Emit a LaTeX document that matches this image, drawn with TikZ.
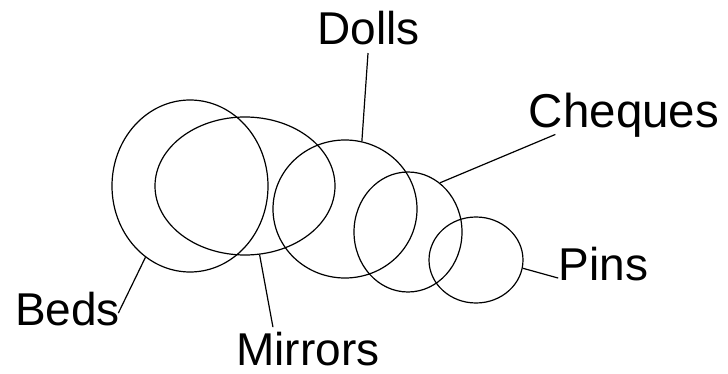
\documentclass[tikz,border=0pt]{standalone}
\usepackage{fontspec}
\setmainfont{Liberation Sans}
\usetikzlibrary{shapes.geometric, calc}
\tikzset{
  every picture/.style={line width=1.2pt},
  set/.style 2 args={draw=black, ellipse, inner sep=0pt, minimum width=#1, minimum height=#2},
  lbl/.style={font=\fontsize{46}{50}\selectfont, inner sep=0pt, anchor=base},
  lead/.style={draw=black, line width=1.2pt},
}

\begin{document}
\begin{tikzpicture}[x=1pt, y=-1pt]
  \useasboundingbox (0,0) rectangle (728,374);
  % the five sets
  \node[set={156}{172}] (beds) at (190,186) {};
  \node[set={180}{138}] (mirrors) at (245,186) {};
  \node[set={144}{138}] (dolls) at (345,209) {};
  \node[set={108}{120}] (cheques) at (408,232) {};
  \node[set={94}{86}] (pins) at (476,260) {};
  % labels
  \node[lbl] (dollsl) at (368.5,45) {Dolls};
  \node[lbl, font=\fontsize{47.5}{50}\selectfont] (chequesl) at (624,128) {Cheques};
  \node[lbl] (pinsl) at (603.5,280) {Pins};
  \node[lbl] (bedsl) at (67.5,325) {Beds};
  \node[lbl] (mirrorsl) at (308,365) {Mirrors};
  % leader lines
  \draw[lead, shorten >=7pt] (dolls.76) -- (dollsl.south);
  \draw[lead] (cheques.57) -- ($(chequesl.south west)+(27,-4)$);
  \draw[lead] (pins.-10) -- ($(pinsl.south west)+(0,-3)$);
  \draw[lead, shorten >=-5pt] (beds.238) -- (bedsl.east);
  \draw[lead, shorten >=4pt] (mirrors.-78) -- (mirrorsl.153);
\end{tikzpicture}
\end{document}
